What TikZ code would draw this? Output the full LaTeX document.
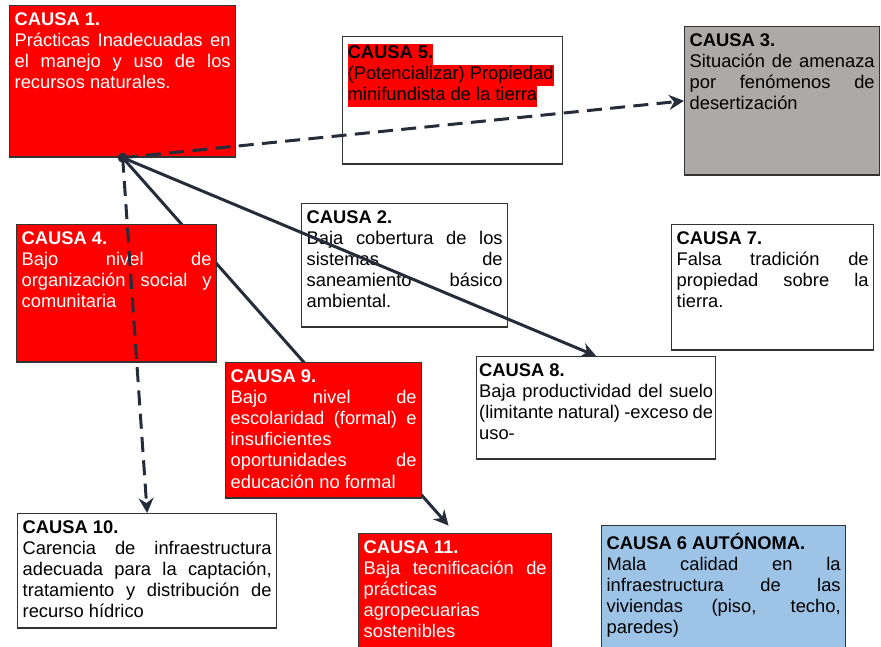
\documentclass[tikz,border=0pt]{standalone}
\usepackage{fontspec}
\setmainfont{Liberation Sans}
\usetikzlibrary{arrows.meta}
\usetikzlibrary{backgrounds}

\tolerance=10000
\hyphenpenalty=10000
\setlength{\fboxsep}{0pt}

\definecolor{flecha}{RGB}{38,45,58}
\definecolor{gris}{RGB}{173,169,168}
\definecolor{azul}{RGB}{157,195,230}

\begin{document}
\begin{tikzpicture} [x=0.6pt, y=-0.6pt,
  causa/.style={draw=black!80, line width=.8pt, anchor=north west, inner xsep=3pt, inner ysep=4.3pt,
    font=\fontsize{11}{12.65}\selectfont},
  roja/.style={causa, fill=red, text=white},
  enlace/.style={draw=flecha, line width=1.8pt, -{Stealth[length=9pt, width=9pt, inset=3pt]}},
  guiones/.style={enlace, dash pattern=on 9pt off 5pt}]
\useasboundingbox (0,0) rectangle (881,646);
\clip (0,0) rectangle (881,646);

\node[roja] (c1) at (9,5) {\parbox[t][82.2pt][t]{129.6pt}{\textbf{CAUSA 1.}\\
Prácticas Inadecuadas en\linebreak el manejo y uso de los\linebreak recursos naturales.}};

\node[causa] (c5) at (342,36) {\parbox[t][67.8pt][t]{126pt}{\colorbox{red}{\strut\textbf{CAUSA 5.}}\\
\colorbox{red}{\strut(Potencializar) Propiedad}\\ \colorbox{red}{\strut minifundista de la tierra}}};

\node[causa, fill=gris] (c3) at (684,26) {\parbox[t][80.4pt][t]{111pt}{\textbf{CAUSA 3.}\\
Situación de amenaza\linebreak por fenómenos de\linebreak desertización}};

\node[causa] (c2) at (301,203) {\parbox[t][65.4pt][t]{117.6pt}{\textbf{CAUSA 2.}\\
Baja cobertura de los\linebreak sistemas de\linebreak saneamiento básico\linebreak ambiental.}};

\node[roja] (c4) at (16,224) {\parbox[t][73.8pt][t]{114pt}{\textbf{CAUSA 4.}\\
Bajo nivel de\linebreak organización social y\linebreak comunitaria}};

\node[causa] (c7) at (671,224) {\parbox[t][66.6pt][t]{115.2pt}{\textbf{CAUSA 7.}\\
Falsa tradición de\linebreak propiedad sobre la\linebreak tierra.}};

\node[roja] (c9) at (225,362) {\parbox[t][72.6pt][t]{111.6pt}{\textbf{CAUSA 9.}\\
Bajo nivel de\linebreak escolaridad (formal) e\linebreak insuficientes\\ oportunidades de\linebreak educación no formal}};

\node[causa, inner xsep=1.5pt] (c8) at (476,356) {\parbox[t][52.8pt][t]{140.4pt}{\textbf{CAUSA 8.}\\
Baja productividad del suelo\linebreak (limitante natural) -exceso de\linebreak uso-}};

\node[causa] (c10) at (17,513) {\parbox[t][60pt][t]{149.4pt}{\textbf{CAUSA 10.}\\
Carencia de infraestructura\linebreak adecuada para la captación,\linebreak tratamiento y distribución de\linebreak recurso hídrico}};

\node[roja] (c11) at (358,533) {\parbox[t][67.2pt][t]{109.8pt}{\textbf{CAUSA 11.}\\
Baja tecnificación de\linebreak prácticas\\ agropecuarias\\ sostenibles}};

\node[causa, fill=azul] (c6) at (601,525) {\parbox[t][67.2pt][t]{140.4pt}{\textbf{CAUSA 6 AUTÓNOMA.}\\
Mala calidad en la\linebreak infraestructura de las\linebreak viviendas (piso, techo,\linebreak paredes)}};

\coordinate (o) at (c1.south);

% detras de causa 4 y causa 9
\begin{scope}[on background layer]
\draw[enlace, shorten >=6pt] (o) -- (c11.north);
\end{scope}

\draw[guiones] (o) -- (c3.west);
\draw[guiones] (o) -- (c10.north);
\draw[enlace] (o) -- (c8.north);
\fill[flecha] (o) circle (3pt);

\end{tikzpicture}
\end{document}
